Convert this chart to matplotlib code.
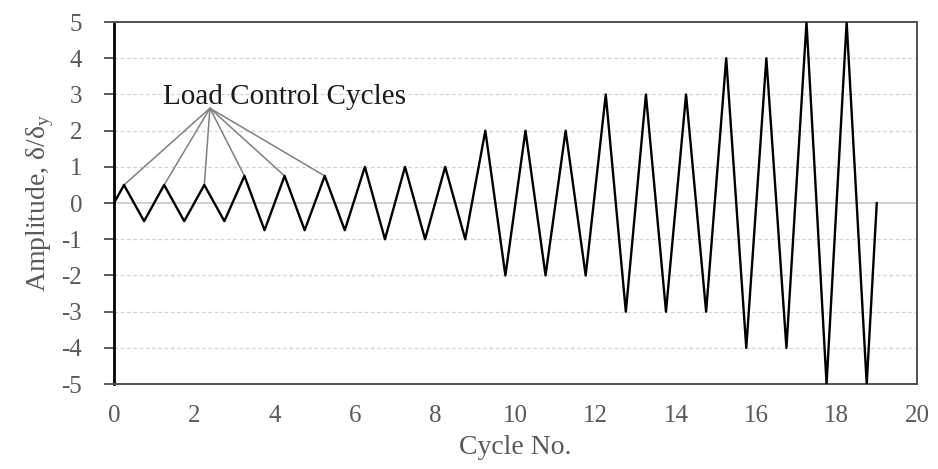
import matplotlib
matplotlib.use('Agg')
import matplotlib.pyplot as plt
from matplotlib import rcParams

rcParams['font.family'] = ['Liberation Serif', 'DejaVu Serif']
rcParams['axes.unicode_minus'] = False

# amplitude (delta/delta_y) of each cycle
cycle_amplitudes = [0.5, 0.5, 0.5, 0.75, 0.75, 0.75, 1, 1, 1,
                    2, 2, 2, 3, 3, 3, 4, 4, 5, 5]
n_load_control = 6
x_ticks = list(range(0, 21, 2))
y_ticks = list(range(-5, 6))

# triangular history: 0 -> +A at quarter cycle -> -A at three quarters
xs, ys = [0], [0]
for i, a in enumerate(cycle_amplitudes):
    xs += [i + 0.25, i + 0.75]
    ys += [a, -a]
xs.append(len(cycle_amplitudes))
ys.append(0)

fig = plt.figure(figsize=(9.38, 4.69), dpi=100)
ax = fig.add_axes([0.1215, 0.181, 0.856, 0.772])

for yv in y_ticks:
    if yv == 0:
        ax.axhline(0, color='#c8c8c8', lw=1.2, zorder=1)
    elif abs(yv) < 5:
        ax.axhline(yv, color='#d4d4d4', lw=0.9, ls=(0, (3, 2)), zorder=1)

ax.plot(xs, ys, color='black', lw=1.7, zorder=3)

# annotation lines to the load control peaks
hub = (2.39, 2.62)
for i in range(n_load_control):
    ax.annotate('', xy=(i + 0.25, cycle_amplitudes[i]), xytext=hub,
                arrowprops=dict(arrowstyle='-', color='#808080', lw=1.1,
                                shrinkA=0, shrinkB=0), zorder=2)
ax.text(4.26, 2.73, 'Load Control Cycles', ha='center', va='baseline',
        fontsize=21, color='#1a1a1a')

ax.set_xlim(0, 20)
ax.set_ylim(-5, 5)
ax.set_xticks(x_ticks)
ax.set_yticks(y_ticks)
ax.tick_params(axis='x', length=0, pad=15, labelsize=18, labelcolor='#595959')
ax.tick_params(axis='y', length=7, width=1.2, pad=16, labelsize=18,
               labelcolor='#595959', color='#404040')

for s in ['top', 'right', 'bottom']:
    ax.spines[s].set_color('#505050')
    ax.spines[s].set_linewidth(1.4)
ax.spines['left'].set_color('black')
ax.spines['left'].set_linewidth(2.0)

ax.set_xlabel('Cycle No.', fontsize=20, color='#595959', labelpad=6)
ax.set_ylabel(r'Amplitude, δ/δ$_\mathregular{y}$', fontsize=20,
              color='#595959', labelpad=4)

plt.savefig('out.png', dpi=100)
